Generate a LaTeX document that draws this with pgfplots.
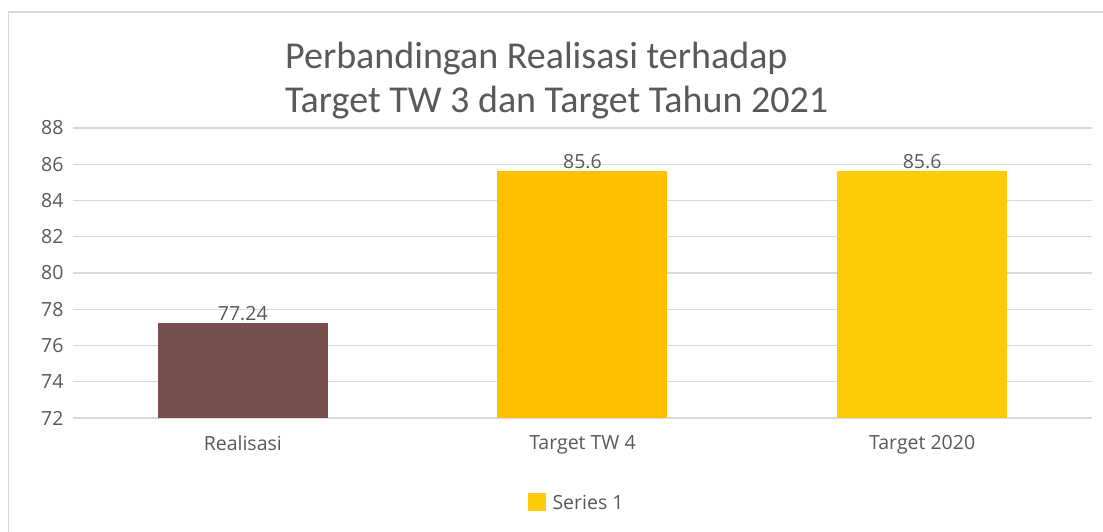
\documentclass[border=0pt]{standalone}
\usepackage{pgfplots}
\pgfplotsset{compat=1.18}
\usepackage{fontspec}
\setmainfont{Open Sans}
\newfontfamily\titlefont{Carlito}
\definecolor{brownbar}{HTML}{774F4D}
\definecolor{goldbar}{HTML}{FFC000}
\definecolor{yellowbar}{HTML}{FFCA08}
\definecolor{gridc}{HTML}{D9D9D9}
\definecolor{textc}{HTML}{595959}
\begin{document}
\begin{tikzpicture}[x=1pt,y=1pt]
\useasboundingbox (0,0) rectangle (1103,532);
\fill[white] (0,0) rectangle (1103,532);
\draw[gridc, line width=1.2pt] (8.5,0) -- (8.5,520) -- (1103,520);
\begin{axis}[
  at={(73pt,114pt)}, anchor=south west,
  scale only axis, width=1019pt, height=290pt,
  xmin=-0.5, xmax=2.5, ymin=72, ymax=88,
  ytick={72,74,...,88},
  xtick={0,1,2}, xticklabels={Realisasi,Target TW 4,Target 2020},
  axis line style={draw=none}, tick style={draw=none},
  ymajorgrids, grid style={gridc, line width=1.3pt},
  ticklabel style={font=\fontsize{19.5}{22}\selectfont, text=textc},
  yticklabel style={xshift=-6pt},
  xticklabel style={yshift=-10pt},
  /pgf/number format/assume math mode=true,
  ybar, bar width=170pt, bar shift=0pt,
  nodes near coords,
  every node near coord/.append style={font=\fontsize{19.5}{22}\selectfont, text=textc, yshift=-1pt},
  point meta=explicit symbolic,
  clip=false,
]
\addplot[fill=brownbar, draw=none] coordinates {(0,77.24) [77.24]};
\addplot[fill=goldbar, draw=none] coordinates {(1,85.6) [85.6]};
\addplot[fill=yellowbar, draw=none] coordinates {(2,85.6) [85.6]};
\end{axis}
\node[anchor=west, text=textc, font=\titlefont\fontsize{38}{44}\selectfont, align=left, inner sep=0pt] at (285,451) {Perbandingan Realisasi terhadap\\Target TW 3 dan Target Tahun 2021};
\fill[yellowbar] (528,21) rectangle (546,39);
\node[anchor=west, text=textc, font=\fontsize{19.5}{22}\selectfont] at (549,30) {Series 1};
\end{tikzpicture}
\end{document}
